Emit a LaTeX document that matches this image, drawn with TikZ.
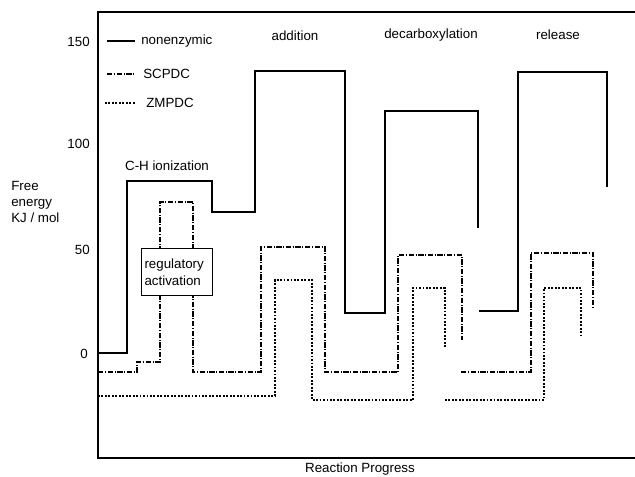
\documentclass[tikz,border=0pt]{standalone}
\usepackage{fontspec}
\setmainfont{Liberation Sans}
\begin{document}
\begin{tikzpicture}[x=0.75pt,y=-0.75pt,
  lbl/.style={inner sep=0pt,font=\fontsize{10}{12}\selectfont},
  nonenz/.style={line width=0.8pt},
  scpdc/.style={line width=0.8pt,dash pattern=on 4pt off 1.2pt on 0.8pt off 1.2pt},
  zmpdc/.style={line width=0.8pt,dash pattern=on 1.4pt off 1.2pt},
  axisline/.style={line width=0.9pt}]
\useasboundingbox (0,0) rectangle (635,476);
% frame
\coordinate (tl) at (98,12);
\coordinate (bl) at (98,458);
\coordinate (tr) at (635,12);
\coordinate (br) at (635,458);
\draw[axisline] (tr) -- (tl) -- (bl) -- (br);
% tick labels
\node[lbl,anchor=east] (t150) at (90,42) {150};
\node[lbl,anchor=east] (t100) at (90,144) {100};
\node[lbl,anchor=east] (t50) at (90,250) {50};
\node[lbl,anchor=east] (t0) at (88,354) {0};
% axis titles
\node[lbl,anchor=north west,align=left] (ytitle) at (11,181) {Free\\energy\\KJ / mol};
\node[lbl] (xtitle) at (360,469) {Reaction Progress};
% legend
\draw[nonenz] (107,41) -- (135,41);
\node[lbl,anchor=west] (leg1) at (141,41) {nonenzymic};
\draw[scpdc] (107,74) -- (135,74);
\node[lbl,anchor=west] (leg2) at (143,74) {SCPDC};
\draw[zmpdc] (105,103) -- (135,103);
\node[lbl,anchor=west] (leg3) at (146,103) {ZMPDC};
% headers
\node[lbl] (hadd) at (295,36) {addition};
\node[lbl] (hdec) at (431,35) {decarboxylation};
\node[lbl] (hrel) at (558,35) {release};
\node[lbl] (hch) at (167,166) {C-H ionization};
% nonenzymic
\draw[nonenz] (98,353) -- (127,353) -- (127,181) -- (212,181) -- (212,212)
  -- (255,212) -- (255,71) -- (345,71) -- (345,313) -- (385,313) -- (385,111)
  -- (478,111) -- (478,228);
\draw[nonenz] (479,311) -- (518,311) -- (518,72) -- (607,72) -- (607,187);
% SCPDC
\draw[scpdc] (98,372) -- (137,372) -- (137,362) -- (160,362) -- (160,202)
  -- (193,202) -- (193,372) -- (261,372) -- (261,247) -- (325,247) -- (325,372)
  -- (398,372) -- (398,255) -- (462,255) -- (462,340);
\draw[scpdc] (461,372) -- (531,372) -- (531,253) -- (593,253) -- (593,308);
% ZMPDC
\draw[zmpdc] (98,396) -- (275,396) -- (275,280) -- (312,280) -- (312,400)
  -- (413,400) -- (413,288) -- (445,288) -- (445,348);
\draw[zmpdc] (445,400) -- (544,400) -- (544,288) -- (581,288) -- (581,335);
% regulatory activation box
\node[draw,line width=0.8pt,fill=white,minimum width=71*0.75pt,minimum height=47*0.75pt,
  inner sep=2pt,anchor=north west,align=left,font=\fontsize{10}{13}\selectfont,
  text width=65*0.75pt] (reg) at (141,248) {regulatory\\activation};
\end{tikzpicture}
\end{document}
